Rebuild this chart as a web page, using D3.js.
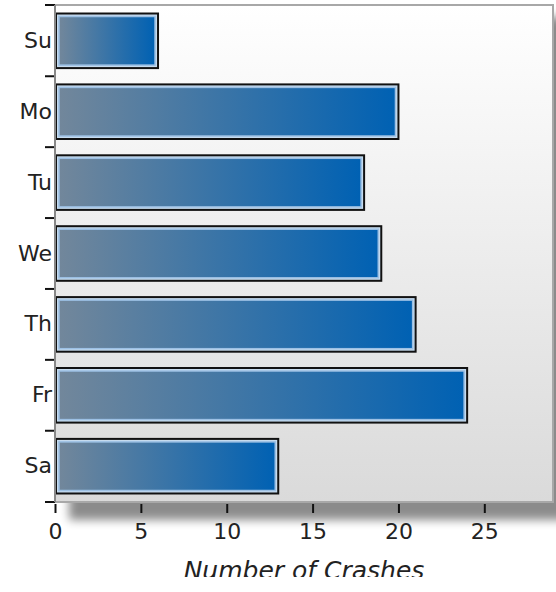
<!DOCTYPE html>
<html>
<head>
<meta charset="utf-8">
<script src="https://cdn.jsdelivr.net/npm/d3@7"></script>
<style>
  html, body { margin: 0; padding: 0; background: #fff; }
  svg { display: block; }
  svg text { font-family: "DejaVu Sans", Verdana, sans-serif; }
</style>
</head>
<body>
<div class="Chart"></div>
<script>
// chart data
var days = ["Su", "Mo", "Tu", "We", "Th", "Fr", "Sa"];
var crashes = [6, 20, 18, 19, 21, 24, 13];
var xTicks = [0, 5, 10, 15, 20, 25];
var xTitle = "Number of Crashes";

var width = 556, height = 592;
var plot = { left: 55, top: 5, right: 553, bottom: 502 };

var svg = d3.select('.Chart').append('svg')
	.attr('width', width)
	.attr('height', height);

var defs = svg.append('defs');

// plot background, white to light gray
var bg = defs.append('linearGradient')
	.attr('id', 'bgGrad')
	.attr('x1', 0).attr('y1', 0).attr('x2', 0).attr('y2', 1);
bg.append('stop').attr('offset', '0%').attr('stop-color', '#ffffff');
bg.append('stop').attr('offset', '100%').attr('stop-color', '#dadada');

// bar fill, grayish blue to strong blue
var barGrad = defs.append('linearGradient')
	.attr('id', 'barGrad')
	.attr('x1', 0).attr('y1', 0).attr('x2', 1).attr('y2', 0);
barGrad.append('stop').attr('offset', '0%').attr('stop-color', '#72879b');
barGrad.append('stop').attr('offset', '100%').attr('stop-color', '#0061b3');

var shadow = defs.append('filter')
	.attr('id', 'shadow')
	.attr('x', '-10%').attr('y', '-10%')
	.attr('width', '130%').attr('height', '130%');
shadow.append('feGaussianBlur').attr('stdDeviation', 5);

defs.append('clipPath').attr('id', 'titleClip')
	.append('rect').attr('x', 0).attr('y', 0).attr('width', width).attr('height', 577);

var x = d3.scaleLinear()
	.domain([0, 29])
	.range([plot.left, plot.right]);

var y = d3.scaleBand()
	.domain(days)
	.range([plot.top, plot.bottom])
	.paddingInner(0.23)
	.paddingOuter(0.12);

// drop shadow under the plot area
svg.append('rect')
	.attr('x', plot.left + 14)
	.attr('y', plot.top + 12)
	.attr('width', plot.right - plot.left)
	.attr('height', plot.bottom - plot.top + 6)
	.style('fill', '#000')
	.style('opacity', 0.45)
	.attr('filter', 'url(#shadow)');

svg.append('rect')
	.attr('x', plot.left)
	.attr('y', plot.top)
	.attr('width', plot.right - plot.left)
	.attr('height', plot.bottom - plot.top)
	.style('fill', 'url(#bgGrad)')
	.style('stroke', '#a8a8a8')
	.style('stroke-width', 2);

// bars
var bars = svg.selectAll('.bar')
	.data(days)
	.enter().append('g')
	.attr('class', 'bar');

bars.append('rect')
	.attr('x', x(0) + 1)
	.attr('y', function(d) { return y(d); })
	.attr('width', function(d, i) { return x(crashes[i]) - x(0) - 1; })
	.attr('height', y.bandwidth())
	.style('fill', '#c6dbee')
	.style('stroke', '#111')
	.style('stroke-width', 2);

bars.append('rect')
	.attr('x', x(0) + 4)
	.attr('y', function(d) { return y(d) + 3; })
	.attr('width', function(d, i) { return x(crashes[i]) - x(0) - 7; })
	.attr('height', y.bandwidth() - 6)
	.style('fill', 'url(#barGrad)')
	.style('stroke', '#9cc0e4')
	.style('stroke-width', 1.5);

// y axis: labels at band centres, ticks at band edges
var yAxis = svg.append('g')
	.attr('transform', 'translate(' + plot.left + ',0)')
	.call(d3.axisLeft(y).tickSize(0).tickPadding(3));
yAxis.attr('font-family', null);
yAxis.select('.domain').remove();
yAxis.selectAll('text')
	.style('font-size', '22px')
	.style('fill', '#222');

var edges = days.map(function(d) { return y(d) - y.step() * y.paddingInner() / 2; });
edges[0] = plot.top;
edges.push(plot.bottom);
svg.selectAll('.ytick')
	.data(edges)
	.enter().append('line')
	.attr('x1', plot.left - 10)
	.attr('x2', plot.left)
	.attr('y1', function(d) { return d; })
	.attr('y2', function(d) { return d; })
	.style('stroke', '#111')
	.style('stroke-width', 2);

svg.append('line')
	.attr('x1', plot.left).attr('x2', plot.left)
	.attr('y1', plot.top).attr('y2', plot.bottom)
	.style('stroke', '#888')
	.style('stroke-width', 2);

// x axis
var xAxis = svg.append('g')
	.attr('transform', 'translate(0,' + (plot.bottom + 2) + ')')
	.call(d3.axisBottom(x).tickValues(xTicks).tickSize(9).tickPadding(10));
xAxis.attr('font-family', null);
xAxis.select('.domain').remove();
xAxis.selectAll('line')
	.style('stroke', '#111')
	.style('stroke-width', 2);
xAxis.selectAll('text')
	.style('font-size', '22px')
	.style('fill', '#222');

svg.append('text')
	.attr('x', (plot.left + plot.right) / 2)
	.attr('y', 579)
	.attr('text-anchor', 'middle')
	.attr('clip-path', 'url(#titleClip)')
	.style('font-size', '25px')
	.style('font-style', 'italic')
	.style('fill', '#222')
	.text(xTitle);
</script>
</body>
</html>
